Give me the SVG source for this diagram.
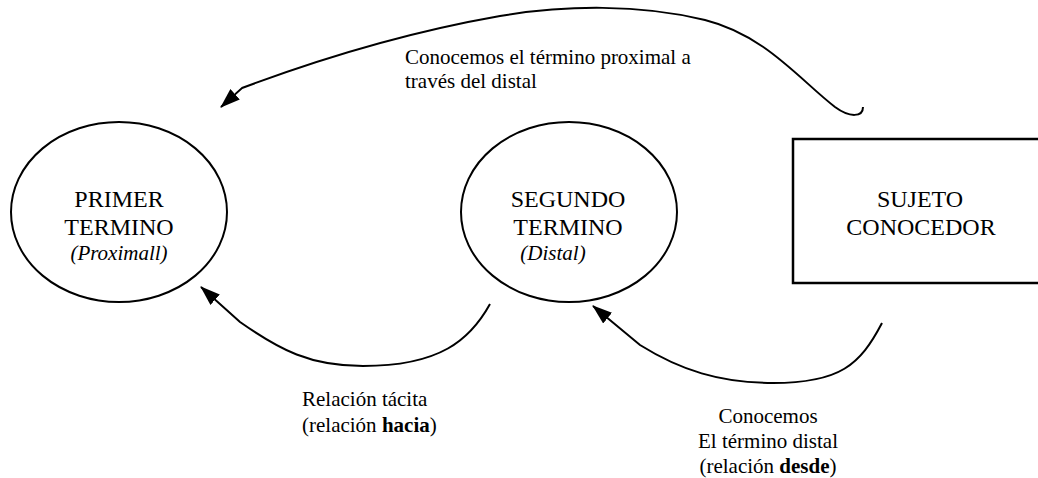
<svg xmlns="http://www.w3.org/2000/svg" width="1038" height="478" viewBox="0 0 1038 478">
<defs>
<style>
.shape{fill:#fff;stroke:#000;stroke-width:2}
.conn{fill:none;stroke:#000;stroke-width:2}
text{font-family:'Liberation Serif',serif;fill:#000}
.big{font-size:24px;text-anchor:middle}
.small{font-size:21px}
.it{font-style:italic}
.b{font-weight:bold}
</style>
<marker id="ah" viewBox="0 0 20 14" markerWidth="20" markerHeight="14" refX="19" refY="7" orient="auto" markerUnits="userSpaceOnUse">
<path d="M0,0 L20,7 L0,14 z" fill="#000"/>
</marker>
</defs>
<rect width="1038" height="478" fill="#fff"/>
<g id="primer">
<ellipse class="shape" cx="119" cy="212" rx="108" ry="90"/>
<text class="big" x="119" y="207">PRIMER</text>
<text class="big" x="119" y="235">TERMINO</text>
<text class="small it" x="119" y="260" text-anchor="middle">(Proximall)</text>
</g>
<g id="segundo">
<ellipse class="shape" cx="569" cy="212" rx="108" ry="90"/>
<text class="big" x="568" y="207">SEGUNDO</text>
<text class="big" x="568" y="235">TERMINO</text>
<text class="small it" x="553" y="260" text-anchor="middle">(Distal)</text>
</g>
<g id="sujeto">
<rect x="793" y="139" width="260" height="144" fill="#fff" stroke="#000" stroke-width="2.5"/>
<text class="big" x="920" y="207">SUJETO</text>
<text class="big" x="921" y="235">CONOCEDOR</text>
</g>
<g id="connectors">
<path class="conn" marker-end="url(#ah)" d="M863,107 C863,117 850,118 835,107 C800,80 765,35 705,20 C640,4 565,5 500,16 C420,30 330,55 242,88 L221,107"/>
<path class="conn" marker-end="url(#ah)" d="M490,304 C470,340 440,366 363,366 C310,366 280,350 240,322 L201,287"/>
<path class="conn" marker-end="url(#ah)" d="M882,323 C860,365 840,383 773,383 C720,383 680,370 640,345 L593,306"/>
</g>
<g id="labels">
<text class="small" x="405" y="64">Conocemos el término proximal a</text>
<text class="small" x="405" y="88">través del distal</text>
<text class="small" x="302" y="406">Relación tácita</text>
<text class="small" x="302" y="432">(relación <tspan class="b">hacia</tspan>)</text>
<text class="small" x="768" y="423" text-anchor="middle">Conocemos</text>
<text class="small" x="768" y="448" text-anchor="middle">El término distal</text>
<text class="small" x="768" y="473" text-anchor="middle">(relación <tspan class="b">desde</tspan>)</text>
</g>
</svg>
